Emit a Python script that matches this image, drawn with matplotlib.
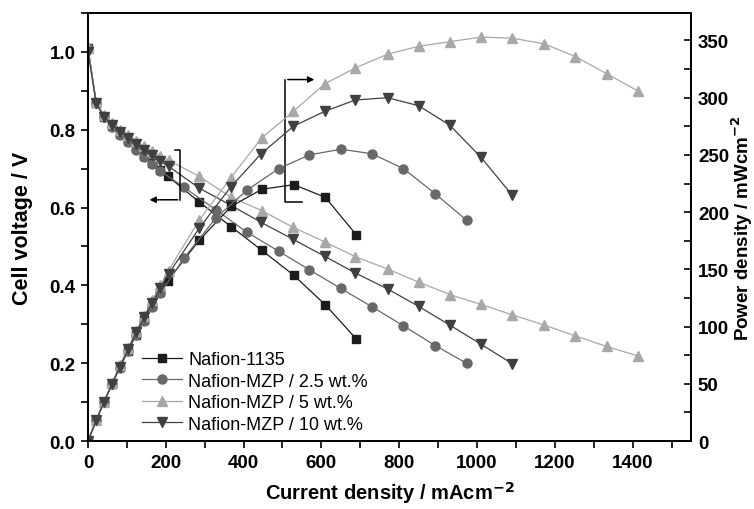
import matplotlib.pyplot as plt
from matplotlib.ticker import MultipleLocator

plt.rcParams['font.family'] = ['Liberation Sans', 'DejaVu Sans']

# Nafion-1135
sq_i = [0, 21, 41, 62, 82, 103, 124, 144, 165, 186, 205, 286, 368, 447, 529, 610, 690]
sq_v = [1.01, 0.870, 0.833, 0.810, 0.789, 0.770, 0.752, 0.733, 0.715, 0.697, 0.681,
        0.614, 0.551, 0.490, 0.426, 0.350, 0.262]
sq_p = [0, 18, 34, 50, 65, 79, 93, 106, 118, 130, 140, 175.5, 205, 220, 224, 213, 180]

# Nafion-MZP / 2.5 wt.%
ci_i = [0, 21, 41, 62, 82, 103, 124, 144, 165, 186, 247, 329, 408, 490, 569, 650, 730, 811, 893, 973]
ci_v = [1.01, 0.870, 0.832, 0.808, 0.787, 0.768, 0.749, 0.730, 0.712, 0.694,
        0.652, 0.594, 0.537, 0.488, 0.440, 0.392, 0.345, 0.296, 0.245, 0.200]
ci_p = [0, 18, 34, 50, 64, 79, 93, 105, 117, 129, 160, 195, 219, 238, 250, 255, 251, 238, 216, 193]

# Nafion-MZP / 5 wt.%
tr_i = [0, 21, 41, 62, 82, 103, 124, 144, 165, 186, 207, 286, 367, 447, 528, 608, 687, 770,
        851, 931, 1011, 1091, 1173, 1253, 1333, 1413]
tr_v = [1.01, 0.872, 0.838, 0.817, 0.800, 0.786, 0.772, 0.758, 0.745, 0.733, 0.722,
        0.680, 0.627, 0.592, 0.549, 0.512, 0.474, 0.442, 0.408, 0.376, 0.351, 0.324,
        0.298, 0.270, 0.243, 0.219]
tr_p = [0, 18, 34, 51, 66, 81, 96, 109, 123, 136, 149, 193, 230, 265, 288, 312, 326, 338,
        345, 349, 353, 352, 347, 336, 321, 306]

# Nafion-MZP / 10 wt.%
it_i = [0, 21, 41, 62, 82, 103, 124, 144, 165, 186, 207, 286, 367, 445, 528, 608, 687, 770,
        850, 930, 1010, 1090]
it_v = [1.00, 0.868, 0.834, 0.813, 0.795, 0.780, 0.764, 0.748, 0.734, 0.719, 0.706,
        0.650, 0.606, 0.562, 0.518, 0.475, 0.432, 0.391, 0.346, 0.298, 0.249, 0.199]
it_p = [0, 18, 34, 50, 65, 80, 95, 108, 121, 134, 146, 186, 222, 251, 275, 288, 298, 300,
        293, 276, 248, 215]

series = [
    ("Nafion-1135", sq_i, sq_v, sq_p, "s", "#1c1c1c", 6),
    ("Nafion-MZP / 2.5 wt.%", ci_i, ci_v, ci_p, "o", "#686868", 6.5),
    ("Nafion-MZP / 5 wt.%", tr_i, tr_v, tr_p, "^", "#a8a8a8", 7.5),
    ("Nafion-MZP / 10 wt.%", it_i, it_v, it_p, "v", "#404040", 7.5),
]

fig = plt.figure(figsize=(7.54, 5.10), dpi=100)
ax = fig.add_axes([0.1167, 0.1333, 0.7997, 0.8392])
ax2 = ax.twinx()

for name, cur, volt, powr, mk, col, ms in series:
    ax.plot(cur, volt, marker=mk, color=col, mfc=col, mec=col, ms=ms, lw=0.9, label=name)
    ax2.plot(cur, powr, marker=mk, color=col, mfc=col, mec=col, ms=ms, lw=0.9)

ax.set_xlim(0, 1550)
ax.set_ylim(0, 1.1)
ax2.set_ylim(0, 374)

ax.xaxis.set_major_locator(MultipleLocator(200))
ax.xaxis.set_minor_locator(MultipleLocator(100))
ax.yaxis.set_major_locator(MultipleLocator(0.2))
ax.yaxis.set_minor_locator(MultipleLocator(0.1))
ax2.yaxis.set_major_locator(MultipleLocator(50))
ax2.yaxis.set_minor_locator(MultipleLocator(25))

ax.tick_params(axis='both', which='major', direction='out', length=5, width=1.2,
               labelsize=13.5, top=False, pad=4)
ax.tick_params(axis='both', which='minor', direction='out', length=5, width=1.2, top=False)
ax2.tick_params(axis='y', which='major', direction='in', length=5, width=1.2,
                labelsize=13.5, pad=5)
ax2.tick_params(axis='y', which='minor', direction='in', length=5, width=1.2)
ax.set_yticks([0, 0.2, 0.4, 0.6, 0.8, 1.0])
ax.set_yticklabels(["0.0", "0.2", "0.4", "0.6", "0.8", "1.0"])
for lab in ax.get_xticklabels() + ax.get_yticklabels() + ax2.get_yticklabels():
    lab.set_fontweight('bold')

for a in (ax, ax2):
    for s in a.spines.values():
        s.set_linewidth(1.3)

ax.set_xlabel("Current density / mAcm$^{\\mathbf{-2}}$", fontsize=14.5, fontweight='bold', labelpad=6)
ax.set_ylabel("Cell voltage / V", fontsize=15.5, fontweight='bold', labelpad=12)
ax2.set_ylabel("Power density / mWcm$^{\\mathbf{-2}}$", fontsize=13.5, fontweight='bold', labelpad=0)

# bracket arrows
ax.plot([224, 237, 237], [0.747, 0.747, 0.620], color='black', lw=1.1)
ax.annotate("", xy=(151, 0.620), xytext=(237.5, 0.620),
            arrowprops=dict(arrowstyle='-|>', color='black', lw=1.1, mutation_scale=9))
ax.plot([551, 507, 507], [0.615, 0.615, 0.929], color='black', lw=1.1)
ax.annotate("", xy=(589, 0.929), xytext=(506.5, 0.929),
            arrowprops=dict(arrowstyle='-|>', color='black', lw=1.1, mutation_scale=9))

ax.legend(loc='lower left', bbox_to_anchor=(0.072, -0.006), frameon=False, fontsize=13,
          handlelength=2.2, handletextpad=0.35, labelspacing=0.25, borderaxespad=0.2)

fig.savefig('out.png', dpi=100)
